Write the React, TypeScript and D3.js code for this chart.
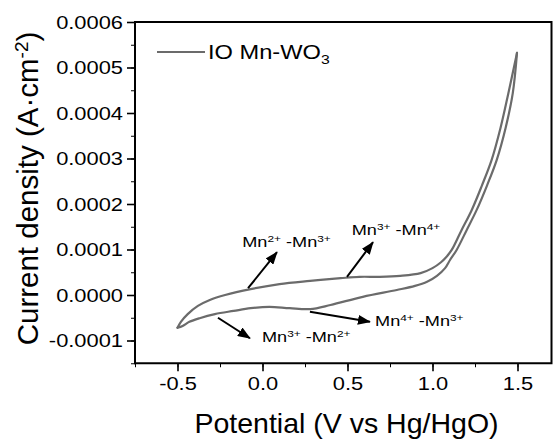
import React, { useEffect, useRef } from "react";
import * as d3 from "d3";

// forward (anodic) scan, V vs Hg/HgO and A/cm2
const fwdPotential = [-0.5, -0.48, -0.44, -0.38, -0.31, -0.22, -0.07, 0.1, 0.28, 0.46, 0.57, 0.69, 0.81, 0.93, 1.0, 1.05, 1.08, 1.113, 1.17, 1.231, 1.29, 1.348, 1.4, 1.446, 1.497];
const fwdCurrent = [-0.000072, -0.000059, -0.000042, -0.000024, -0.000011, 0.0, 0.000013, 0.000024, 0.000031, 0.000037, 0.00004, 0.00004, 0.000042, 0.000048, 0.000059, 0.000072, 0.000083, 0.000099, 0.000142, 0.000187, 0.00024, 0.000297, 0.000367, 0.000443, 0.000532];

// reverse (cathodic) scan
const revPotential = [1.497, 1.472, 1.43, 1.378, 1.32, 1.26, 1.2, 1.142, 1.103, 1.074, 1.026, 0.968, 0.897, 0.79, 0.59, 0.4, 0.28, 0.16, 0.04, -0.07, -0.17, -0.28, -0.37, -0.43, -0.47, -0.5];
const revCurrent = [0.000532, 0.000443, 0.000367, 0.000297, 0.00024, 0.000187, 0.000142, 0.000099, 0.000077, 0.000059, 0.000042, 0.000029, 0.00002, 0.000011, -0.000004, -0.000022, -0.000031, -0.000029, -0.000026, -0.000029, -0.000035, -0.000042, -0.000051, -0.000059, -0.000068, -0.000072];

const xTicks = [-0.5, 0.0, 0.5, 1.0, 1.5];
const yTicks = [-0.0001, 0.0, 0.0001, 0.0002, 0.0003, 0.0004, 0.0005, 0.0006];

const seriesName = "IO Mn-WO";
const seriesSub = "3";

// redox annotations: arrow from (x0,y0) to (x1,y1), label at (lx,ly)
const annotations = [
	{ a: "2+", b: "3+", x0: -0.085, y0: 0.000015, x1: 0.085, y1: 0.000094, lx: -0.119, ly: 0.000105 },
	{ a: "3+", b: "4+", x0: 0.497, y0: 0.00004, x1: 0.65, y1: 0.000116, lx: 0.525, ly: 0.000132 },
	{ a: "3+", b: "2+", x0: -0.262, y0: -0.00005, x1: -0.074, y1: -0.000095, lx: -0.003, ly: -0.000103 },
	{ a: "4+", b: "3+", x0: 0.279, y0: -0.000037, x1: 0.632, y1: -0.000059, lx: 0.662, ly: -0.000068 },
];

const W = 554;
const H = 443;
const FONT = "'Liberation Sans', Arial, sans-serif";
const STRETCH = 1.25;
const hyphen = (s: string) => s.replace("\u2212", "-");

const App = () => {
	const svgRef = useRef<SVGSVGElement>(null);

	useEffect(() => {
		const svg = d3.select(svgRef.current);
		svg.selectAll("*").remove();

		const x = d3.scaleLinear().domain([-0.75, 1.7]).range([135, 551.5]);
		const y = d3.scaleLinear().domain([-0.00015, 0.0006]).range([363.25, 22]);

		const defs = svg.append("defs");
		defs
			.append("marker")
			.attr("id", "head")
			.attr("viewBox", "0 0 13 10")
			.attr("refX", 12)
			.attr("refY", 5)
			.attr("markerWidth", 13)
			.attr("markerHeight", 10)
			.attr("markerUnits", "userSpaceOnUse")
			.attr("orient", "auto")
			.append("path")
			.attr("d", "M0,0 L13,5 L0,10 Z")
			.attr("fill", "#000");

		// minor ticks
		svg
			.append("g")
			.attr("transform", `translate(0,${y.range()[0]})`)
			.call(d3.axisBottom(x).tickValues(d3.range(-0.75, 1.71, 0.25)).tickSize(4).tickFormat(() => ""))
			.call((g) => g.select(".domain").remove());
		svg
			.append("g")
			.attr("transform", `translate(${x.range()[0]},0)`)
			.call(d3.axisLeft(y).tickValues(d3.range(-0.00015, 0.000601, 0.00005)).tickSize(4).tickFormat(() => ""))
			.call((g) => g.select(".domain").remove());

		// major axes
		const xAxis = svg
			.append("g")
			.attr("transform", `translate(0,${y.range()[0]})`)
			.call(d3.axisBottom(x).tickValues(xTicks).tickSize(8).tickPadding(6).tickFormat((d) => hyphen(d3.format(".1f")(d as number))));
		const yAxis = svg
			.append("g")
			.attr("transform", `translate(${x.range()[0]},0)`)
			.call(d3.axisLeft(y).tickValues(yTicks).tickSize(8).tickPadding(4).tickFormat((d) => hyphen(d3.format(".4f")(d as number))));

		[xAxis, yAxis].forEach((g) => {
			g.selectAll("line").attr("stroke", "#000").attr("stroke-width", 1.6);
			g.select(".domain").remove();
			g.selectAll("text")
				.style("font-family", FONT)
				.style("font-size", "17.5px")
				.attr("fill", "#000")
				.attr("transform", `scale(${STRETCH},1)`);
		});
		yAxis
			.selectAll("text")
			.attr("x", -12 / STRETCH)
			.attr("dy", "0.35em");

		// frame
		svg
			.append("rect")
			.attr("x", x.range()[0])
			.attr("y", y.range()[1])
			.attr("width", x.range()[1] - x.range()[0])
			.attr("height", y.range()[0] - y.range()[1])
			.attr("fill", "none")
			.attr("stroke", "#000")
			.attr("stroke-width", 2);

		// CV loop, each sweep drawn on its own
		const line = d3
			.line<[number, number]>()
			.x((d) => x(d[0]))
			.y((d) => y(d[1]))
			.curve(d3.curveMonotoneY);
		const lineX = d3
			.line<[number, number]>()
			.x((d) => x(d[0]))
			.y((d) => y(d[1]))
			.curve(d3.curveCatmullRom.alpha(0.5));
		const fwd = fwdPotential.map((v, i) => [v, fwdCurrent[i]] as [number, number]);
		const rev = revPotential.map((v, i) => [v, revCurrent[i]] as [number, number]);
		[fwd, rev].forEach((pts) => {
			svg
				.append("path")
				.attr("d", lineX(pts))
				.attr("fill", "none")
				.attr("stroke", "#6b6b6b")
				.attr("stroke-width", 2.2)
				.attr("stroke-linejoin", "round")
				.attr("stroke-linecap", "round");
		});

		// legend
		svg
			.append("line")
			.attr("x1", 157)
			.attr("x2", 205)
			.attr("y1", 52)
			.attr("y2", 52)
			.attr("stroke", "#6b6b6b")
			.attr("stroke-width", 2.2);
		const lg = svg
			.append("text")
			.attr("transform", `translate(208,59) scale(${STRETCH * 0.97},1)`)
			.style("font-family", FONT)
			.style("font-size", "19.5px")
			.attr("fill", "#000");
		lg.append("tspan").text(seriesName);
		lg.append("tspan").attr("dy", 5).style("font-size", "13px").text(seriesSub);

		// annotations
		annotations.forEach((a) => {
			svg
				.append("line")
				.attr("x1", x(a.x0))
				.attr("y1", y(a.y0))
				.attr("x2", x(a.x1))
				.attr("y2", y(a.y1))
				.attr("stroke", "#000")
				.attr("stroke-width", 2)
				.attr("marker-end", "url(#head)");
			const t = svg
				.append("text")
				.attr("transform", `translate(${x(a.lx)},${y(a.ly)}) scale(${STRETCH},1)`)
				.style("font-family", FONT)
				.style("font-size", "14.5px")
				.attr("fill", "#000");
			t.append("tspan").text("Mn");
			t.append("tspan").attr("dy", -5).style("font-size", "9.5px").text(a.a);
			t.append("tspan").attr("dy", 5).text(" -Mn");
			t.append("tspan").attr("dy", -5).style("font-size", "9.5px").text(a.b);
		});

		// axis titles
		svg
			.append("text")
			.attr("x", 346.5)
			.attr("y", 433)
			.attr("text-anchor", "middle")
			.style("font-family", FONT)
			.style("font-size", "28.5px")
			.attr("fill", "#000")
			.text("Potential (V vs Hg/HgO)");
		const yt = svg
			.append("text")
			.attr("transform", "translate(37.5,188.5) rotate(-90)")
			.attr("text-anchor", "middle")
			.style("font-family", FONT)
			.style("font-size", "29.5px")
			.attr("fill", "#000");
		yt.append("tspan").text("Current density (A\u00b7cm");
		yt.append("tspan").attr("dy", -10).style("font-size", "19px").text("-2");
		yt.append("tspan").attr("dy", 10).text(")");
	}, []);

	return (
		<div style={{ position: "absolute", left: 0, top: 0 }}>
			<svg ref={svgRef} width={W} height={H} style={{ display: "block", background: "#fff" }}></svg>
		</div>
	);
};

export default App;
